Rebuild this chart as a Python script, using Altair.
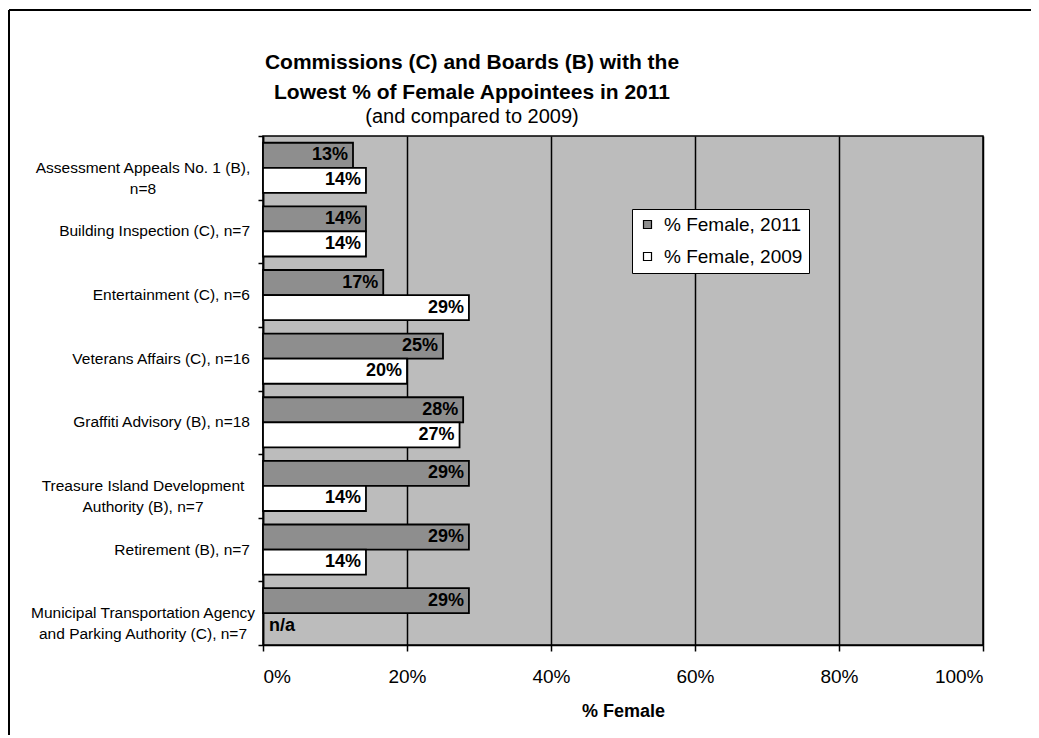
import altair as alt
import pandas as pd

FONT = "Liberation Sans"

# Categories (each as its displayed lines)
category_lines = [
    ["Assessment Appeals No. 1 (B),", "n=8"],
    ["Building Inspection (C), n=7"],
    ["Entertainment (C), n=6"],
    ["Veterans Affairs (C), n=16"],
    ["Graffiti Advisory (B), n=18"],
    ["Treasure Island Development", "Authority (B), n=7"],
    ["Retirement (B), n=7"],
    ["Municipal Transportation Agency", "and Parking Authority (C), n=7"],
]
series_names = ["% Female, 2011", "% Female, 2009"]
female_2011 = [12.5, 14.3, 16.7, 25.0, 27.8, 28.6, 28.6, 28.6]
female_2009 = [14.3, 14.3, 28.6, 20.0, 27.3, 14.3, 14.3, None]
x_ticks = [0, 20, 40, 60, 80, 100]

categories = [" ".join(l) for l in category_lines]

rows = []
for i, cat in enumerate(categories):
    for s, vals in zip(series_names, [female_2011, female_2009]):
        v = vals[i]
        rows.append({
            "cat": cat,
            "series": s,
            "value": v,
            "label": "n/a" if v is None else f"{int(v + 0.5)}%",
        })
df = pd.DataFrame(rows)
cat_df = pd.DataFrame({"cat": categories, "lines": category_lines,
                       "nlines": [len(l) for l in category_lines]})

y_enc = alt.Y("cat:N", sort=categories,
              scale=alt.Scale(paddingInner=0, paddingOuter=0),
              axis=alt.Axis(title=None, labels=False, tickBand="extent",
                            ticks=True, tickSize=5, tickColor="black",
                            domainColor="black", domainWidth=1.5, tickWidth=1.5))
yoff_enc = alt.YOffset("series:N", sort=series_names,
                       scale=alt.Scale(paddingOuter=0.27, paddingInner=0))

x_scale = alt.Scale(domain=[0, 100], nice=False)
x_axis = alt.Axis(values=x_ticks, labelExpr="datum.value + '%'", title="% Female",
                  grid=True, gridColor="black", gridWidth=1.5,
                  tickSize=6, tickColor="black", tickWidth=1.5,
                  domainColor="black", domainWidth=1.5,
                  labelFontSize=19, labelFont=FONT, labelColor="black", labelPadding=16,
                  titleFontSize=18, titleFont=FONT, titleFontWeight="bold",
                  titleColor="black", titlePadding=16)

base = alt.Chart(df)

bars = base.mark_bar(stroke="black", strokeWidth=1.8).encode(
    x=alt.X("value:Q", scale=x_scale, axis=x_axis),
    y=y_enc,
    yOffset=yoff_enc,
    color=alt.Color("series:N", sort=series_names,
                    scale=alt.Scale(domain=series_names, range=["#8e8e8e", "#ffffff"]),
                    legend=alt.Legend(title=None, orient="none", legendX=369, legendY=73,
                                      fillColor="white", strokeColor="black",
                                      padding=6, rowPadding=12,
                                      symbolType="square", symbolSize=64,
                                      symbolStrokeColor="black", symbolStrokeWidth=1.2,
                                      labelFont=FONT, labelFontSize=19, labelColor="black",
                                      labelOffset=7)),
)

val_text = base.transform_filter("datum.value != null").mark_text(
    align="right", baseline="middle", dx=-5, font=FONT, fontSize=18,
    fontWeight="bold", color="black"
).encode(
    x=alt.X("value:Q", scale=x_scale),
    y=alt.Y("cat:N", sort=categories),
    yOffset=yoff_enc,
    text="label:N",
)

na_text = base.transform_filter("datum.value == null").mark_text(
    align="left", baseline="middle", dx=6, font=FONT, fontSize=18,
    fontWeight="bold", color="black"
).encode(
    x=alt.value(0),
    y=alt.Y("cat:N", sort=categories),
    yOffset=yoff_enc,
    text="label:N",
)

cat_base = alt.Chart(cat_df)
single_lbl = cat_base.transform_filter("datum.nlines == 1").mark_text(
    align="right", baseline="middle", font=FONT, fontSize=15.5, color="black"
).encode(
    x=alt.value(-13),
    y=alt.Y("cat:N", sort=categories),
    text="lines",
)
multi_lbl = cat_base.transform_filter("datum.nlines > 1").mark_text(
    align="center", baseline="middle", font=FONT, fontSize=15.5, color="black",
    lineHeight=21
).encode(
    x=alt.value(-120),
    y=alt.Y("cat:N", sort=categories),
    text="lines",
)

frame_top = alt.Chart(pd.DataFrame({"k": [0]})).mark_rule(color="black", strokeWidth=2).encode(
    x=alt.value(-254), x2=alt.value(770), y=alt.value(-126))
frame_left = alt.Chart(pd.DataFrame({"k": [0]})).mark_rule(color="black", strokeWidth=2).encode(
    x=alt.value(-254), y=alt.value(-126), y2=alt.value(620))

chart = alt.layer(bars, val_text, na_text, single_lbl, multi_lbl, frame_top, frame_left).properties(
    width=720, height=509,
    autosize=alt.AutoSizeParams(type="none"),
    padding={"left": 255, "top": 128, "right": 48, "bottom": 90},
    background="white",
    title=alt.TitleParams(
        text=["Commissions (C) and Boards (B) with the", "Lowest % of Female Appointees in 2011"],
        subtitle="(and compared to 2009)",
        font=FONT, fontSize=21, fontWeight="bold", color="black", lineHeight=30,
        subtitleFont=FONT, subtitleFontSize=20, subtitleColor="black",
        subtitlePadding=4, anchor="middle", dx=-151, dy=122, offset=4,
    ),
).configure_view(
    fill="#bcbcbc", stroke="black", strokeWidth=1.5
)

chart.save("out.html", embed_options={"renderer": "svg", "actions": False})
